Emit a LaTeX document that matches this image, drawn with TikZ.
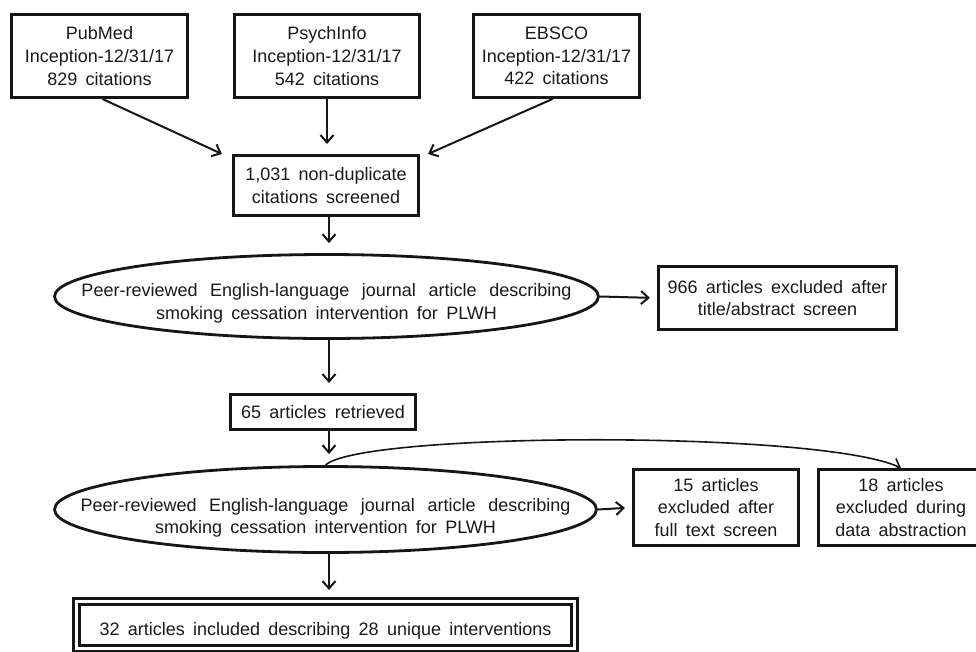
\documentclass[tikz,border=0pt]{standalone}
\usepackage{fontspec}
\setmainfont{Liberation Sans}
\usetikzlibrary{arrows.meta,shapes.geometric,calc}
\newdimen\pxu \pxu=0.75pt
\definecolor{ink}{RGB}{22,22,22}
\definecolor{txt}{RGB}{25,25,25}
\newcommand\dgfont{\fontsize{13.5}{17}\selectfont\spaceskip=0.46em plus 0.3em\relax}
\begin{document}
\begin{tikzpicture}[x=0.75pt,y=-0.75pt,
  box/.style={draw=ink,line width=3\pxu,rectangle,inner sep=0pt,align=center,text=txt,font=\dgfont},
  ell/.style={draw=ink,line width=2.8\pxu,ellipse,inner sep=0pt},
  lbl/.style={inner sep=0pt,align=center,text=txt,font=\dgfont},
  arr/.style={draw=ink,line width=2\pxu,-{Straight Barb[length=5.6pt,width=9.75pt]}},
]
\useasboundingbox (0,0) rectangle (976,651);

% source boxes
\node[box,minimum width=176\pxu,minimum height=83\pxu] (pub) at (99.5,56) {PubMed\\Inception-12/31/17\\829 citations};
\node[box,minimum width=185\pxu,minimum height=83\pxu] (psy) at (327,56) {PsychInfo\\Inception-12/31/17\\542 citations};
\node[box,minimum width=166\pxu,minimum height=83\pxu] (ebs) at (556.5,56) {EBSCO\\Inception-12/31/17\\422 citations};

\node[box,minimum width=185\pxu,minimum height=60\pxu] (scr) at (326,185.5) {1,031 non-duplicate\\citations screened};

% first screening
\node[ell,minimum width=544\pxu,minimum height=84\pxu] (e1) at (326.5,296.5) {};
\node[lbl] (e1t) at (326.5,303.5) {\makebox[490\pxu][s]{Peer-reviewed English-language journal article describing}\\smoking cessation intervention for PLWH};
\node[box,minimum width=238\pxu,minimum height=63\pxu] (ex1) at (777.5,298) {966 articles excluded after\\title/abstract screen};

\node[box,minimum width=185\pxu,minimum height=35\pxu] (ret) at (323,412) {65 articles retrieved};

% second screening
\node[ell,minimum width=542\pxu,minimum height=86\pxu] (e2) at (325.5,509.5) {};
\node[lbl] (e2t) at (325.5,518) {\makebox[490\pxu][s]{Peer-reviewed English-language journal article describing}\\smoking cessation intervention for PLWH};
\node[box,minimum width=165\pxu,minimum height=76\pxu] (ex2) at (716,507.5) {15 articles\\excluded after\\full text screen};
\node[box,minimum width=165\pxu,minimum height=76\pxu] (ex3) at (901,507.5) {18 articles\\excluded during\\data abstraction};

\node[box,double,double distance=3\pxu,minimum width=498\pxu,minimum height=47\pxu,text height=20\pxu,text depth=0pt] (fin) at (325.5,625) {32 articles included describing 28 unique interventions};

% connectors
\draw[arr] ($(pub.south)+(3,0)$) -- ($(scr.north west)+(-10,0)$);
\draw[arr,shorten >=10\pxu] (psy.south) -- (psy.south |- scr.north);
\draw[arr] ($(ebs.south)+(-4,0)$) -- ($(scr.north east)+(8,0)$);
\draw[arr,shorten >=10\pxu] ($(scr.south)+(3,0)$) -- ($(e1.north)+(2.5,0)$);
\draw[arr,shorten >=7\pxu] (e1.east) -- (ex1.west);
\draw[arr,shorten >=10\pxu] ($(e1.south)+(2.5,0)$) -- ($(ret.north)+(6,0)$);
\draw[arr,shorten >=11\pxu] ($(ret.south)+(6,0)$) -- ($(e2.north)+(3.5,0)$);
\draw[arr,shorten >=7\pxu] (e2.east) -- (ex2.west);
\draw[arr,line width=1.6\pxu] (e2.north) .. controls (360,432) and (820,430) .. (ex3.north);
\draw[arr,shorten >=10\pxu] ($(e2.south)+(3.5,0)$) -- ($(fin.north)+(3.5,0)$);
\end{tikzpicture}
\end{document}
